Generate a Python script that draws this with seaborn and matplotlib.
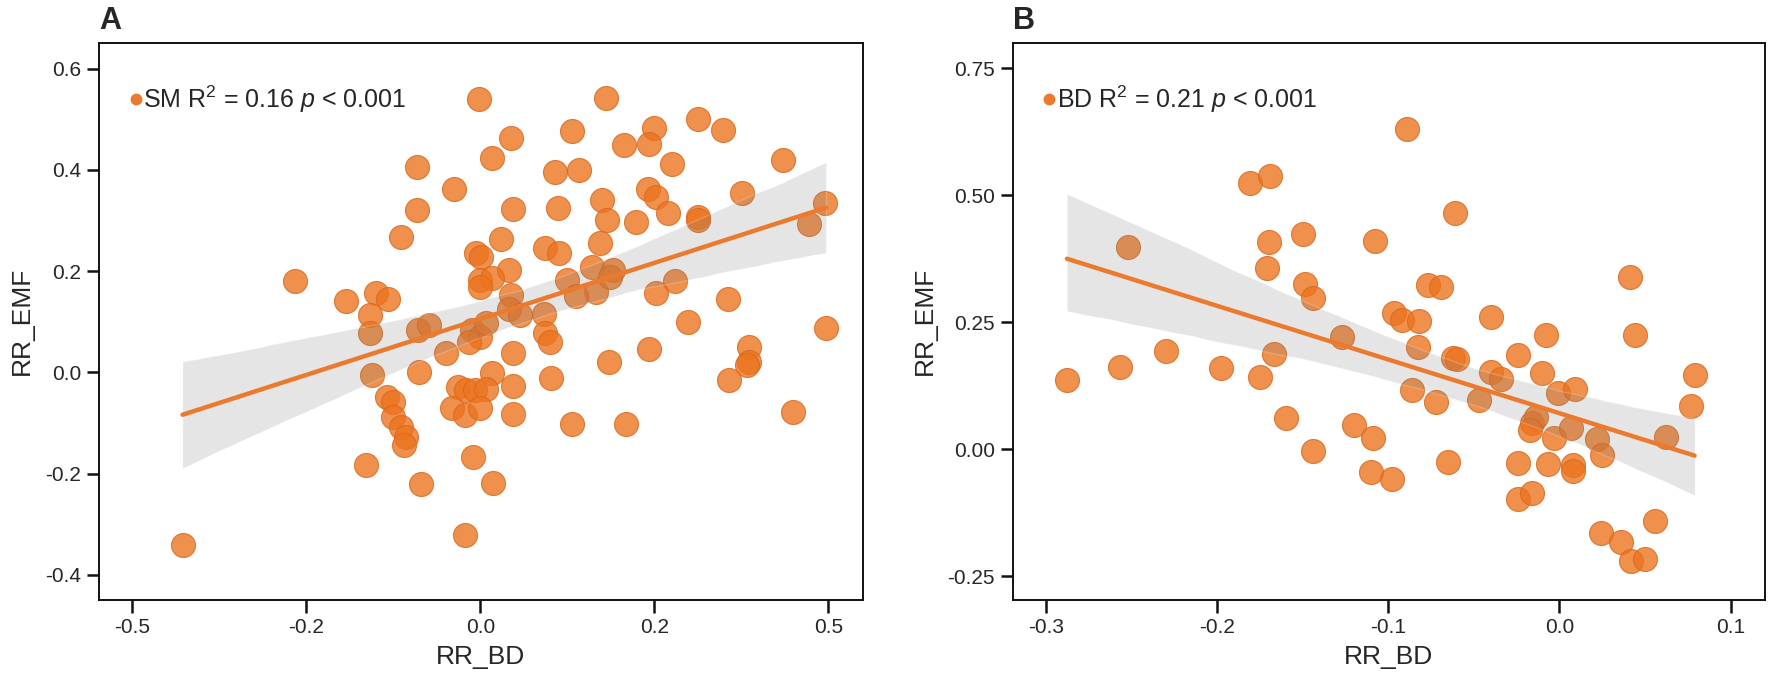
#%% IMPORTS                    ~~~~~~~~~~~~~~~~~~~~~~~~~~~~~~~~~~~~~~~~~~~~
import matplotlib
matplotlib.use("Agg")
from   matplotlib import pyplot as plt
from   matplotlib.lines import Line2D
import numpy  as np
import pandas as pd
import seaborn as sns

#%% DATA                       ~~~~~~~~~~~~~~~~~~~~~~~~~~~~~~~~~~~~~~~~~~~~
# panel A (SM)
sm_x = [-0.001, 0.162, 0.281, 0.314, 0.119, 0.224, 0.218, 0.186, 0.040, 0.015,
        0.391, 0.248, -0.082, 0.097, 0.128, -0.034, 0.217, 0.227, 0.338, 0.157,
        0.446, -0.082, 0.042, 0.100, 0.243, 0.281, 0.281, 0.164, 0.202, 0.425,
        -0.102, 0.027, 0.155, -0.005, 0.001, 0.084, 0.102, 0.037, 0.144, 0.172,
        0.000, 0.015, 0.000, 0.112, 0.252, 0.227, 0.150, 0.124, -0.240, -0.173,
        -0.135, -0.119, -0.142, 0.040, 0.037, 0.051, 0.083, 0.320, 0.268, 0.447,
        0.168, -0.142, -0.080, -0.066, -0.011, 0.000, -0.014, 0.007, 0.084, 0.090,
        -0.044, 0.042, 0.218, 0.347, 0.347, 0.345, 0.166, 0.321, -0.079, -0.140,
        0.015, 0.091, 0.042, -0.029, -0.018, -0.007, 0.007, -0.121, -0.113, -0.037,
        -0.020, 0.000, 0.042, 0.118, 0.189, 0.404, -0.113, -0.102, -0.096, -0.099,
        -0.009, -0.148, -0.077, 0.016, -0.020, -0.385]
sm_y = [0.540, 0.542, 0.501, 0.478, 0.476, 0.482, 0.452, 0.449, 0.464, 0.423,
        0.419, 0.411, 0.406, 0.396, 0.399, 0.362, 0.363, 0.347, 0.355, 0.340,
        0.334, 0.321, 0.322, 0.324, 0.314, 0.307, 0.301, 0.301, 0.297, 0.293,
        0.268, 0.263, 0.255, 0.235, 0.228, 0.245, 0.235, 0.202, 0.209, 0.202,
        0.182, 0.186, 0.169, 0.182, 0.181, 0.157, 0.159, 0.151, 0.180, 0.141,
        0.156, 0.146, 0.113, 0.153, 0.126, 0.113, 0.116, 0.145, 0.100, 0.087,
        0.188, 0.077, 0.084, 0.093, 0.084, 0.070, 0.060, 0.097, 0.077, 0.060,
        0.039, 0.039, 0.047, 0.051, 0.021, 0.014, 0.021, -0.015, 0.001, -0.005,
        -0.002, -0.011, -0.027, -0.028, -0.035, -0.035, -0.032, -0.048, -0.058, -0.071,
        -0.084, -0.071, -0.083, -0.102, -0.102, -0.078, -0.088, -0.107, -0.127, -0.144,
        -0.167, -0.183, -0.221, -0.219, -0.321, -0.341]

# panel B (BD)
bd_x = [-0.089, -0.181, -0.169, -0.061, -0.170, -0.150, -0.108, -0.252, 0.041, -0.171,
        -0.149, -0.144, -0.077, -0.069, -0.097, -0.092, -0.082, -0.040, -0.127, -0.008,
        0.044, -0.288, -0.257, -0.230, -0.198, -0.175, -0.167, -0.160, -0.120, -0.109,
        -0.144, -0.110, -0.098, -0.086, -0.083, -0.072, -0.065, -0.062, -0.060, -0.047,
        -0.040, -0.034, -0.024, -0.010, -0.001, 0.009, -0.016, -0.014, -0.017, -0.003,
        0.007, -0.024, -0.007, 0.008, 0.008, -0.024, -0.016, 0.022, 0.025, 0.062,
        0.079, 0.077, 0.024, 0.036, 0.042, 0.050, 0.056]
bd_y = [0.630, 0.524, 0.538, 0.464, 0.408, 0.423, 0.410, 0.398, 0.339, 0.356,
        0.326, 0.298, 0.323, 0.320, 0.268, 0.254, 0.253, 0.260, 0.220, 0.225,
        0.224, 0.136, 0.162, 0.194, 0.159, 0.142, 0.187, 0.062, 0.047, 0.021,
        -0.004, -0.045, -0.058, 0.116, 0.201, 0.092, -0.025, 0.179, 0.177, 0.096,
        0.152, 0.139, 0.185, 0.150, 0.111, 0.119, 0.051, 0.064, 0.037, 0.021,
        0.041, -0.027, -0.030, -0.031, -0.043, -0.099, -0.086, 0.019, -0.012, 0.023,
        0.146, 0.085, -0.166, -0.182, -0.220, -0.217, -0.141]

sm_xticks  = [-0.45, -0.225, 0.0, 0.225, 0.45]
sm_xlabels = ["-0.5", "-0.2", "0.0", "0.2", "0.5"]
sm_yticks  = [-0.4, -0.2, 0.0, 0.2, 0.4, 0.6]
bd_xticks  = [-0.3, -0.2, -0.1, 0.0, 0.1]
bd_yticks  = [-0.25, 0.0, 0.25, 0.50, 0.75]

#%% CONFIGURATION              ~~~~~~~~~~~~~~~~~~~~~~~~~~~~~~~~~~~~~~~~~~~~
ORANGE = "#EC741F"
LINE_C = "#EC7A2E"

sns.set_style("white")
plt.rcParams["font.family"] = ["Liberation Sans", "DejaVu Sans"]
plt.rcParams["mathtext.fontset"] = "custom"
plt.rcParams["mathtext.rm"] = "Liberation Sans"
plt.rcParams["mathtext.it"] = "Liberation Sans:italic"
plt.rcParams["axes.unicode_minus"] = False


#%% FUNCTIONS                  ~~~~~~~~~~~~~~~~~~~~~~~~~~~~~~~~~~~~~~~~~~~~
def draw_panel(ax, x, y, label, letter, xlim, ylim):
    df = pd.DataFrame({"RR_BD": x, "RR_EMF": y})
    sns.scatterplot(data=df, x="RR_BD", y="RR_EMF", ax=ax, s=300,
                    color=ORANGE, alpha=0.8, edgecolor="#D8681E",
                    linewidth=0.8, zorder=2)
    n_before = len(ax.collections)
    sns.regplot(data=df, x="RR_BD", y="RR_EMF", ax=ax, scatter=False,
                ci=95, seed=7, color=LINE_C, line_kws={"lw": 3.2, "zorder": 4})
    # grey confidence band instead of the orange default
    for coll in ax.collections[n_before:]:
        coll.set_facecolor("#808080")
        coll.set_alpha(0.2)
        coll.set_zorder(3)
    #end

    ax.set_xlim(*xlim)
    ax.set_ylim(*ylim)
    for side in ["top", "right", "bottom", "left"]:
        ax.spines[side].set_visible(True)
        ax.spines[side].set_color("#111111")
        ax.spines[side].set_linewidth(1.4)
    #end
    ax.tick_params(axis="both", which="major", direction="out", length=9,
                   width=1.8, color="#111111", labelsize=15, pad=4,
                   left=True, bottom=True, top=False, right=False)
    ax.set_xlabel("RR_BD", fontsize=19, labelpad=6)
    ax.set_ylabel("RR_EMF", fontsize=19, labelpad=8)

    handle = Line2D([], [], marker="o", linestyle="none", markersize=7.5,
                    markerfacecolor=LINE_C, markeredgecolor=LINE_C)
    ax.legend([handle], [label], loc="center left",
              bbox_to_anchor=(0.043, 0.899), frameon=False, fontsize=18,
              handlelength=0.3, handletextpad=0.15, borderpad=0,
              borderaxespad=0)
    ax.text(0.0, 1.024, letter, transform=ax.transAxes, fontsize=22,
            fontweight="bold", ha="left", va="baseline")
#end


#%% MAIN CODE                  ~~~~~~~~~~~~~~~~~~~~~~~~~~~~~~~~~~~~~~~~~~~~
fig = plt.figure(figsize=(17.72, 6.78), dpi=100)
ax_a = fig.add_axes([0.0559, 0.1150, 0.4310, 0.8220])
ax_b = fig.add_axes([0.5717, 0.1150, 0.4241, 0.8220])

draw_panel(ax_a, sm_x, sm_y, r"SM R$^2$ = 0.16 $p$ < 0.001", "A",
           (-0.4929, 0.4946), (-0.4495, 0.6513))
ax_a.set_xticks(sm_xticks)
ax_a.set_xticklabels(sm_xlabels)
ax_a.set_yticks(sm_yticks)
ax_a.set_yticklabels([f"{v:.1f}" for v in sm_yticks])

draw_panel(ax_b, bd_x, bd_y, r"BD R$^2$ = 0.21 $p$ < 0.001", "B",
           (-0.3195, 0.1199), (-0.297, 0.800))
ax_b.set_xticks(bd_xticks)
ax_b.set_xticklabels([f"{v:.1f}" for v in bd_xticks])
ax_b.set_yticks(bd_yticks)
ax_b.set_yticklabels([f"{v:.2f}" for v in bd_yticks])

fig.savefig("out.png", dpi=100)
